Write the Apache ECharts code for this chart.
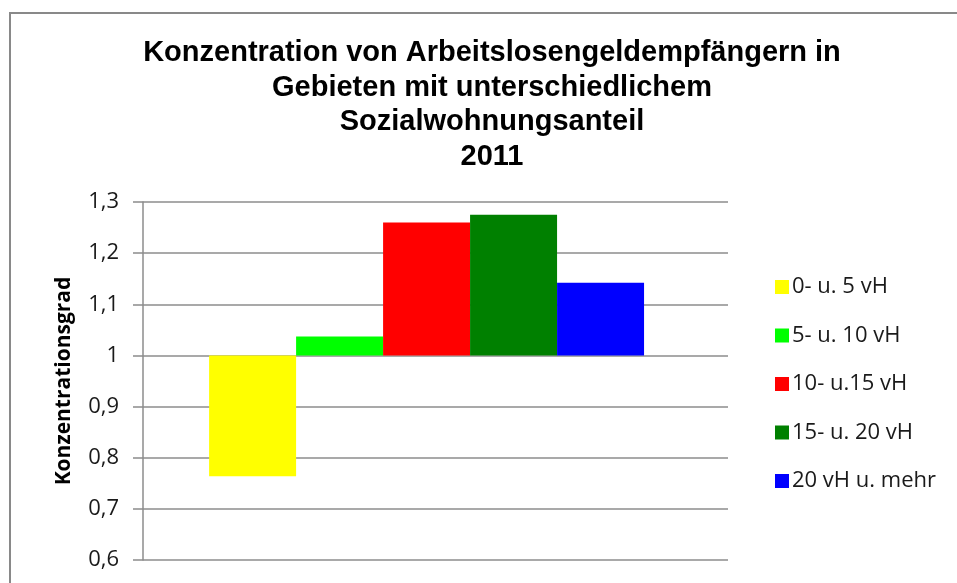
<!DOCTYPE html>
<html>
<head>
<meta charset="utf-8">
<script src="https://cdn.jsdelivr.net/npm/echarts@6/dist/echarts.min.js"></script>
<style>
  html, body { margin: 0; padding: 0; background: #fff; }
  #chart { width: 957px; height: 583px; }
</style>
</head>
<body>
<div id="chart"></div>
<script>
// Concentration degree of unemployment-benefit recipients by social-housing share, 2011
const titleLines = [
  'Konzentration von Arbeitslosengeldempfängern in',
  'Gebieten mit unterschiedlichem',
  'Sozialwohnungsanteil',
  '2011'
];
const seriesNames = ['0- u. 5 vH', '5- u. 10 vH', '10- u.15 vH', '15- u. 20 vH', '20 vH u. mehr'];
const seriesValues = [0.764, 1.037, 1.260, 1.275, 1.142];
const seriesColors = ['#FFFF00', '#00FF00', '#FF0000', '#008000', '#0000FF'];
const categories = [''];
const yAxisName = 'Konzentrationsgrad';
const yMin = 0.6, yMax = 1.3, yStep = 0.1;
const baseline = 1;

// bars hang from the baseline inside the single category band
const groupLeftFrac = 0.113;
const barFrac = 0.1487;

const chart = echarts.init(document.getElementById('chart'));

const series = seriesNames.map(function (name, i) {
  return {
    name: name,
    type: 'custom',
    itemStyle: { color: seriesColors[i] },
    encode: { x: 0, y: 1 },
    data: [[0, seriesValues[i]]],
    renderItem: function (params, api) {
      const cat = api.value(0);
      const band = api.size([1, 0])[0];
      const pBase = api.coord([cat, baseline]);
      const pTop = api.coord([cat, api.value(1)]);
      const x0 = pBase[0] - band / 2 + band * (groupLeftFrac + i * barFrac);
      return {
        type: 'rect',
        shape: {
          x: x0,
          y: Math.min(pBase[1], pTop[1]),
          width: band * barFrac,
          height: Math.abs(pTop[1] - pBase[1])
        },
        style: api.style()
      };
    }
  };
});

chart.setOption({
  animation: false,
  backgroundColor: '#fff',
  title: {
    text: titleLines.join('\n'),
    left: 487,
    textAlign: 'center',
    top: 31,
    textStyle: {
      fontFamily: 'Liberation Sans',
      fontWeight: 'bold',
      fontSize: 29,
      lineHeight: 34.5,
      color: '#000'
    }
  },
  legend: {
    orient: 'vertical',
    left: 770,
    top: 271,
    itemWidth: 14,
    itemHeight: 14,
    itemGap: 26.5,
    icon: 'rect',
    textStyle: { fontFamily: 'Open Sans', fontSize: 22, color: '#1a1a1a', padding: [0, 0, 0, -2] },
    data: seriesNames
  },
  grid: { left: 143, top: 202, right: 229, bottom: 23, containLabel: false },
  xAxis: {
    type: 'category',
    data: categories,
    axisLine: { show: false },
    axisTick: { show: false },
    axisLabel: { show: false },
    splitLine: { show: false }
  },
  yAxis: {
    type: 'value',
    min: yMin,
    max: yMax,
    interval: yStep,
    name: yAxisName,
    nameLocation: 'middle',
    nameGap: 68,
    nameRotate: 90,
    nameTextStyle: { fontFamily: 'Open Sans', fontWeight: 'bold', fontSize: 21, color: '#000' },
    axisLine: { show: true, lineStyle: { color: '#8c8c8c', width: 1.5 } },
    axisTick: { show: true, length: 10, lineStyle: { color: '#8c8c8c', width: 1.5 } },
    axisLabel: {
      margin: 24,
      fontFamily: 'Open Sans',
      fontSize: 22,
      color: '#1a1a1a',
      verticalAlign: 'middle',
      padding: [8, 0, 0, 0],
      formatter: function (v) { return String(+v.toFixed(1)).replace('.', ','); }
    },
    splitLine: { show: true, lineStyle: { color: '#8c8c8c', width: 1.5 } }
  },
  graphic: [{
    type: 'rect',
    z: 100,
    shape: { x: 10, y: 13, width: 960, height: 600 },
    style: { fill: 'none', stroke: '#898989', lineWidth: 2 }
  }],
  series: series
});
</script>
</body>
</html>
